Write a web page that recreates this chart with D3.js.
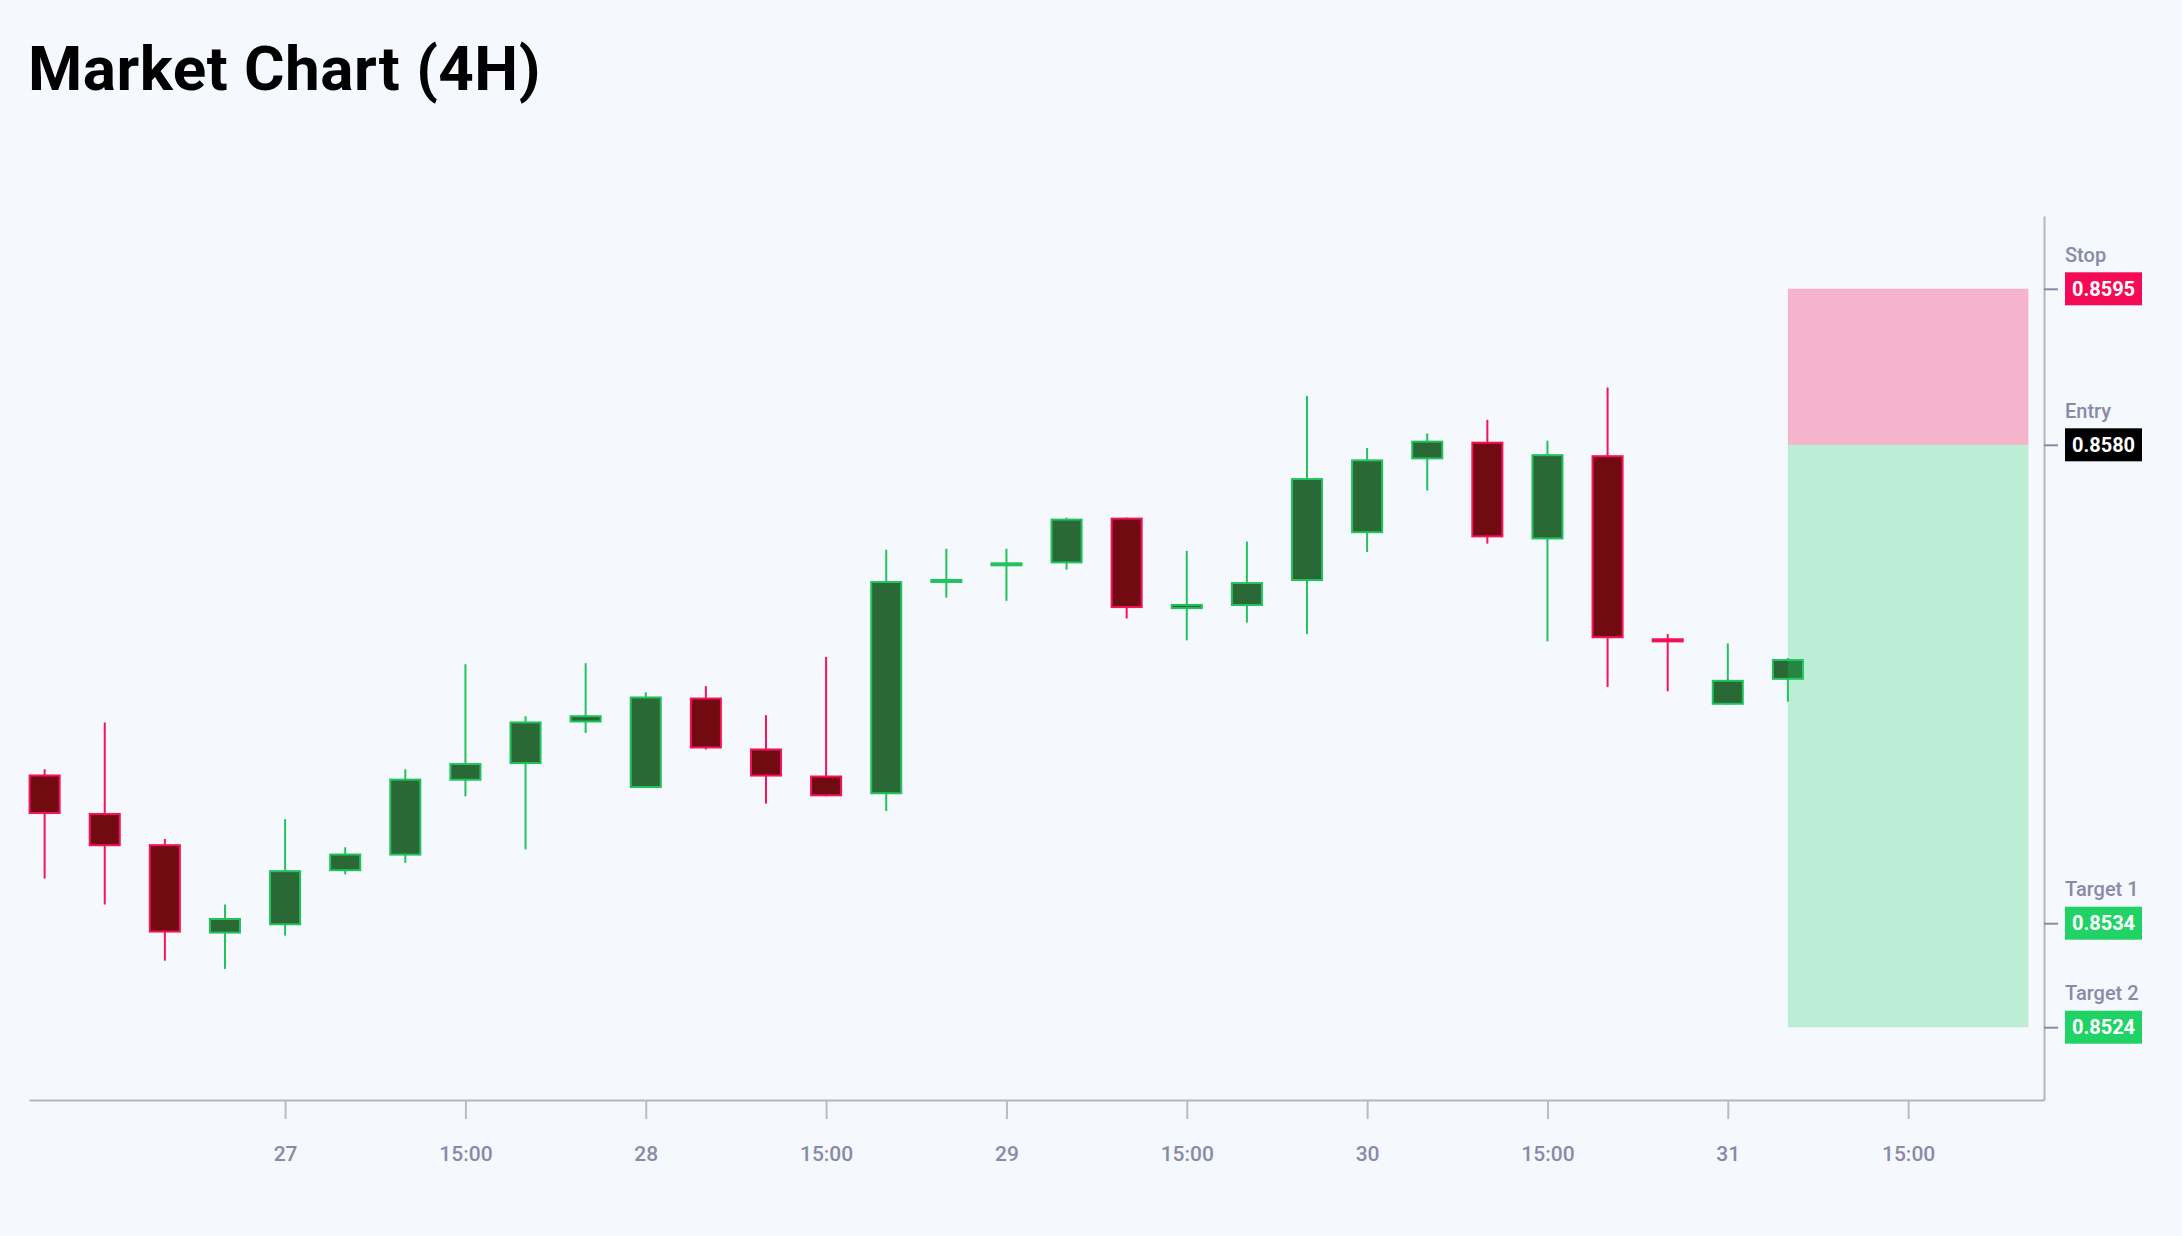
<!DOCTYPE html>
<html>
<head>
<meta charset="utf-8">
<script src="https://cdn.jsdelivr.net/npm/d3@7"></script>
<style>
  html, body { margin: 0; padding: 0; background: #f5f8fd; }
  svg { display: block; font-family: Roboto, "Noto Sans", sans-serif; }
</style>
</head>
<body>
<svg id="chart" width="2182" height="1236"></svg>
<script>
// 4H candles
const opens  = [0.85483, 0.85446, 0.85416, 0.85330, 0.85338, 0.85390, 0.85405, 0.85477, 0.85493, 0.85533,
                0.85470, 0.85557, 0.85508, 0.85482, 0.85464, 0.85668, 0.85684, 0.85686, 0.85730, 0.85642,
                0.85645, 0.85669, 0.85715, 0.85786, 0.85803, 0.85709, 0.85790, 0.85614, 0.85550, 0.85574];
const highs  = [0.85488, 0.85533, 0.85421, 0.85358, 0.85440, 0.85413, 0.85488, 0.85589, 0.85539, 0.85590,
                0.85562, 0.85568, 0.85540, 0.85596, 0.85699, 0.85700, 0.85700, 0.85730, 0.85730, 0.85698,
                0.85707, 0.85847, 0.85797, 0.85811, 0.85824, 0.85804, 0.85855, 0.85618, 0.85609, 0.85595];
const lows   = [0.85383, 0.85358, 0.85304, 0.85296, 0.85328, 0.85387, 0.85398, 0.85462, 0.85411, 0.85523,
                0.85470, 0.85507, 0.85455, 0.85462, 0.85448, 0.85653, 0.85650, 0.85680, 0.85633, 0.85612,
                0.85629, 0.85618, 0.85697, 0.85756, 0.85705, 0.85611, 0.85567, 0.85563, 0.85550, 0.85553];
const closes = [0.85445, 0.85414, 0.85331, 0.85345, 0.85391, 0.85407, 0.85479, 0.85494, 0.85534, 0.85540,
                0.85558, 0.85508, 0.85481, 0.85462, 0.85669, 0.85671, 0.85687, 0.85729, 0.85643, 0.85647,
                0.85668, 0.85768, 0.85786, 0.85804, 0.85711, 0.85791, 0.85614, 0.85610, 0.85574, 0.85594];

// x axis ticks (candle index -> label)
const tickIndex  = [4, 7, 10, 13, 16, 19, 22, 25, 28, 31];
const tickLabels = ["27", "15:00", "28", "15:00", "29", "15:00", "30", "15:00", "31", "15:00"];

// trade levels
const levelNames  = ["Stop", "Entry", "Target 1", "Target 2"];
const levelValues = [0.8595, 0.8580, 0.8534, 0.8524];
const levelColors = ["#f50a55", "#000000", "#21d366", "#21d366"];

// position box spans these candle slots
const boxStart = 29;
const boxEnd = 33;

const candles = opens.map((o, i) => ({
  i, open: o, high: highs[i], low: lows[i], close: closes[i],
}));

const W = 2182;
const H = 1236;
const margin = { left: 29, right: 138, top: 216, bottom: 136 };

const svg = d3.select("#chart");

svg.append("text")
  .attr("x", 28)
  .attr("y", 90)
  .attr("font-size", 62)
  .attr("font-weight", 700)
  .attr("letter-spacing", 0.5)
  .attr("fill", "#000")
  .text("Market Chart (4H)");

const x = d3.scaleLinear()
  .domain([-0.26, 33.26])
  .range([margin.left, W - margin.right]);

const yMin = d3.min(levelValues) - 0.0007;
const yMax = d3.max(levelValues) + 0.0007;
const y = d3.scaleLinear()
  .domain([yMin, yMax])
  .range([H - margin.bottom, margin.top]);

const step = x(1) - x(0);
const bodyW = step * 0.5;

const upStroke = "#22c35e";
const upFill = "#2a6836";
const downStroke = "#f5145a";
const downFill = "#720a12";

// candles
const g = svg.append("g").attr("class", "candles");

g.selectAll("line.wick")
  .data(candles)
  .join("line")
  .attr("class", "wick")
  .attr("x1", (d) => x(d.i))
  .attr("x2", (d) => x(d.i))
  .attr("y1", (d) => y(d.high))
  .attr("y2", (d) => y(d.low))
  .attr("stroke", (d) => (d.close >= d.open ? upStroke : downStroke))
  .attr("stroke-width", 2);

g.selectAll("rect.body")
  .data(candles)
  .join("rect")
  .attr("class", "body")
  .attr("x", (d) => x(d.i) - bodyW / 2)
  .attr("y", (d) => y(Math.max(d.open, d.close)) + 1)
  .attr("width", bodyW)
  .attr("height", (d) => Math.max(2, Math.abs(y(d.open) - y(d.close)) - 2))
  .attr("fill", (d) => (d.close >= d.open ? upFill : downFill))
  .attr("stroke", (d) => (d.close >= d.open ? upStroke : downStroke))
  .attr("stroke-width", 2);

// risk / reward zones, drawn on top with transparency
const entry = levelValues[1];
const stop = levelValues[0];
const target2 = levelValues[3];

svg.append("rect")
  .attr("x", x(boxStart))
  .attr("y", y(stop))
  .attr("width", x(boxEnd) - x(boxStart))
  .attr("height", y(entry) - y(stop))
  .attr("fill", "#f50a55")
  .attr("fill-opacity", 0.29);

svg.append("rect")
  .attr("x", x(boxStart))
  .attr("y", y(entry))
  .attr("width", x(boxEnd) - x(boxStart))
  .attr("height", y(target2) - y(entry))
  .attr("fill", "#21d366")
  .attr("fill-opacity", 0.27);

// x axis
const xAxis = svg.append("g")
  .attr("transform", `translate(0,${H - margin.bottom})`)
  .call(
    d3.axisBottom(x)
      .tickValues(tickIndex)
      .tickFormat((d, i) => tickLabels[i])
      .tickSize(19)
      .tickSizeOuter(0)
      .tickPadding(27),
  );
xAxis.select(".domain").attr("stroke", "#b3b6be").attr("stroke-width", 2);
xAxis.selectAll(".tick line").attr("stroke", "#b9bcc4").attr("stroke-width", 2);
xAxis.selectAll(".tick text")
  .attr("font-family", "Roboto, sans-serif")
  .attr("font-size", 21)
  .attr("font-weight", 500)
  .attr("fill", "#8a8aa8");

// y axis on the right, only trade levels
const yAxis = svg.append("g")
  .attr("transform", `translate(${W - margin.right},0)`)
  .call(
    d3.axisRight(y)
      .tickValues(levelValues)
      .tickFormat("")
      .tickSize(14)
      .tickSizeOuter(0),
  );
yAxis.select(".domain").attr("stroke", "#b3b6be").attr("stroke-width", 2);
yAxis.selectAll(".tick line").attr("stroke", "#8a8aa8").attr("stroke-width", 2);

const labelX = W - margin.right + 21;
const boxW = 77;
const boxH = 33;

const levels = svg.append("g").selectAll("g")
  .data(levelValues)
  .join("g")
  .attr("transform", (d) => `translate(${labelX},${y(d)})`);

levels.append("text")
  .attr("x", 0)
  .attr("y", -27)
  .attr("font-size", 20)
  .attr("font-weight", 500)
  .attr("fill", "#8a8aa8")
  .text((d, i) => levelNames[i]);

levels.append("rect")
  .attr("x", 0)
  .attr("y", -boxH / 2)
  .attr("width", boxW)
  .attr("height", boxH)
  .attr("fill", (d, i) => levelColors[i]);

levels.append("text")
  .attr("x", boxW / 2)
  .attr("y", 0)
  .attr("dy", "0.36em")
  .attr("text-anchor", "middle")
  .attr("font-size", 20)
  .attr("font-weight", 700)
  .attr("fill", "#fff")
  .text((d) => d3.format(".4f")(d));
</script>
</body>
</html>
